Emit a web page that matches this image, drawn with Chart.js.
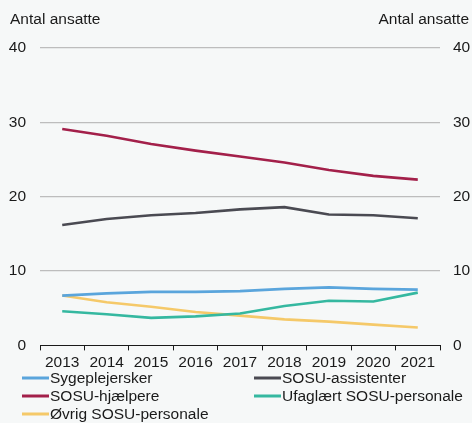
<!DOCTYPE HTML>
<html lang="da">
<head>
<meta charset="UTF-8">
<title>Antal ansatte</title>
<script src="https://cdn.jsdelivr.net/npm/chart.js@4/dist/chart.umd.min.js"></script>
<style>
  body { margin: 0; background: #f6f8f8; }
  #wrap { width: 472px; height: 423px; }
</style>
</head>
<body>
<div id="wrap"><canvas id="canvas"></canvas></div>

<script>
// data
var years = ['2013', '2014', '2015', '2016', '2017', '2018', '2019', '2020', '2021'];
var sygeplejersker = [6.7, 7.0, 7.2, 7.2, 7.3, 7.6, 7.8, 7.6, 7.5];
var sosuAssistenter = [16.2, 17.0, 17.5, 17.8, 18.3, 18.6, 17.6, 17.5, 17.1];
var sosuHjaelpere = [29.1, 28.2, 27.1, 26.2, 25.4, 24.6, 23.6, 22.8, 22.3];
var ufaglaert = [4.6, 4.2, 3.7, 3.9, 4.3, 5.3, 6.0, 5.9, 7.1];
var oevrig = [6.7, 5.8, 5.2, 4.5, 4.0, 3.5, 3.2, 2.8, 2.4];
var yTicks = [0, 10, 20, 30, 40];
var axisTitle = 'Antal ansatte';

var FONT = 'Liberation Sans, Arial, sans-serif';
var FS = 15.5;

// titler over akserne + legende i to kolonner
var extras = {
  id: 'extras',
  afterDraw: function(chart) {
    var ctx = chart.ctx;
    ctx.save();
    ctx.font = FS + 'px ' + FONT;
    ctx.fillStyle = '#1a1a1a';
    ctx.textBaseline = 'middle';
    ctx.textAlign = 'left';
    ctx.fillText(axisTitle, 10, 20);
    ctx.textAlign = 'right';
    ctx.fillText(axisTitle, 469, 20);

    var cols = [22, 254];
    var rows = [378, 396, 414];
    ctx.textAlign = 'left';
    chart.data.datasets.forEach(function(ds, i) {
      var x = cols[i % 2];
      var y = rows[Math.floor(i / 2)];
      ctx.strokeStyle = ds.borderColor;
      ctx.lineWidth = 3;
      ctx.beginPath();
      ctx.moveTo(x, y);
      ctx.lineTo(x + 27, y);
      ctx.stroke();
      ctx.fillStyle = '#1a1a1a';
      ctx.fillText(ds.label, x + 28, y + 1);
    });
    ctx.restore();
  }
};

function line(label, data, color) {
  return {
    label: label,
    data: data,
    borderColor: color,
    backgroundColor: color,
    borderWidth: 2.6,
    pointRadius: 0,
    tension: 0,
    fill: false
  };
}

function fixedTicks(s) {
  s.ticks = yTicks.map(function(v) { return { value: v }; });
}

var ctx = document.getElementById('canvas').getContext('2d');
new Chart(ctx, {
  type: 'line',
  data: {
    labels: years,
    datasets: [
      line('Sygeplejersker', sygeplejersker, '#5aa5dc'),
      line('SOSU-assistenter', sosuAssistenter, '#4a4a52'),
      line('SOSU-hjælpere', sosuHjaelpere, '#a3204a'),
      line('Ufaglært SOSU-personale', ufaglaert, '#35b8a0'),
      line('Øvrig SOSU-personale', oevrig, '#f5c969')
    ]
  },
  options: {
    responsive: true,
    maintainAspectRatio: false,
    animation: false,
    layout: { padding: { top: 48, left: 0, right: 0, bottom: 48 } },
    plugins: {
      legend: { display: false },
      tooltip: { enabled: false }
    },
    scales: {
      x: {
        offset: true,
        grid: { offset: true, drawOnChartArea: false, drawTicks: true, tickLength: 5, color: '#1a1a1a' },
        border: { color: '#1a1a1a', width: 1 },
        ticks: { color: '#1a1a1a', padding: 3, maxRotation: 0, font: { family: FONT, size: FS } }
      },
      y: {
        min: 0, max: 40,
        afterBuildTicks: fixedTicks,
        afterFit: function(s) { s.width = 40; },
        grid: { color: function(c) { return c.tick.value === 0 ? 'rgba(0,0,0,0)' : '#bdbdbd'; }, drawTicks: false, lineWidth: 1.2 },
        border: { display: false },
        ticks: { color: '#1a1a1a', padding: 14, font: { family: FONT, size: FS } }
      },
      y2: {
        position: 'right',
        min: 0, max: 40,
        afterBuildTicks: fixedTicks,
        afterFit: function(s) { s.width = 32; },
        grid: { display: false, drawTicks: false },
        border: { display: false },
        ticks: { color: '#1a1a1a', padding: 13, font: { family: FONT, size: FS } }
      }
    }
  },
  plugins: [extras]
});
</script>
</body>
</html>
